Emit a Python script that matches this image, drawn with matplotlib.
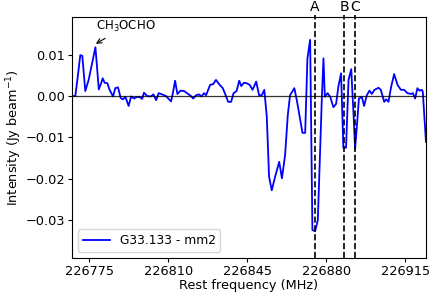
import numpy as np
import matplotlib
matplotlib.use('Agg')
import matplotlib.pyplot as plt

# spectrum (rest frequency in MHz, intensity in Jy/beam)
freq = [226767.3, 226768.8, 226769.7, 226771.0, 226771.9, 226773.2, 226774.7, 226776.2,
        226777.7, 226779.2, 226780.3, 226780.9, 226781.8, 226783.0, 226783.9, 226785.5,
        226786.5, 226787.7, 226788.9, 226789.9, 226791.0, 226792.4, 226793.5, 226794.8,
        226796.1, 226797.5, 226798.4, 226799.2, 226800.6, 226802.1, 226803.4, 226804.6,
        226805.7, 226807.2, 226809.0, 226810.3, 226811.2, 226812.0, 226813.0, 226814.0,
        226815.4, 226817.0, 226818.3, 226819.8, 226821.0, 226822.3, 226823.6, 226824.7,
        226825.8, 226826.7, 226828.5, 226829.9, 226831.1, 226832.6, 226834.1, 226835.1,
        226836.5, 226837.8, 226838.9, 226840.2, 226841.4, 226842.3, 226843.5, 226844.7,
        226846.0, 226847.3, 226848.9, 226850.2, 226851.4, 226852.5, 226853.6, 226854.6,
        226855.8, 226857.3, 226859.1, 226860.3, 226861.7, 226862.9, 226863.9, 226865.8,
        226866.9, 226869.4, 226870.6, 226871.6, 226872.8, 226873.8, 226875.0, 226876.2,
        226878.0, 226878.7, 226879.3, 226880.5, 226881.7, 226883.1, 226884.3, 226885.3,
        226886.5, 226887.5, 226888.7, 226889.8, 226891.0, 226892.0, 226892.7, 226893.5,
        226894.4, 226895.7, 226896.7, 226897.9, 226899.1, 226900.1, 226901.3, 226903.1,
        226904.1, 226905.6, 226906.5, 226907.5, 226908.7, 226910.0, 226911.5, 226913.0,
        226914.4, 226915.9, 226917.4, 226918.3, 226919.3, 226920.3, 226921.2, 226922.3,
        226922.7, 226924.1]
intensity = [0.0, 0.0, 0.0039, 0.0099, 0.0097, 0.0012, 0.0039, 0.0079,
             0.0118, 0.0016, 0.0032, 0.0043, 0.0032, 0.0031, 0.0016, -0.0001,
             0.0019, 0.0021, -0.0005, -0.0008, -0.0002, -0.0024, -0.0001, -0.0006,
             -0.0002, -0.0003, -0.0007, 0.0008, 0.0, -0.0001, 0.0004, -0.0010,
             0.0007, 0.0004, 0.0, -0.0008, -0.0013, 0.0007, 0.0037, 0.0005,
             0.0013, 0.0012, 0.0007, 0.0001, -0.0006, 0.0002, 0.0004, -0.0001,
             0.0007, 0.0002, 0.0027, 0.0029, 0.0039, 0.0028, 0.0019, 0.0006,
             -0.0014, -0.0014, 0.0007, 0.0012, 0.0037, 0.0024, 0.0032, 0.0031,
             0.0027, 0.0015, 0.0035, 0.0002, 0.0002, 0.0015, -0.0050, -0.0195,
             -0.0228, -0.0195, -0.0159, -0.0199, -0.0143, -0.0046, 0.0002, 0.0019,
             -0.0010, -0.0089, -0.0089, 0.0091, 0.0136, -0.0324, -0.0327, -0.0300,
             -0.0002, 0.0091, -0.0002, 0.0007, -0.0002, -0.0027, -0.0019, 0.0023,
             0.0055, -0.0125, -0.0125, 0.0039, 0.0065, -0.0042, -0.0127, -0.0074,
             -0.0006, -0.0002, -0.0024, 0.0002, 0.0013, 0.0005, 0.0015, 0.0020,
             0.0015, -0.0014, -0.0008, -0.0014, 0.0023, 0.0053, 0.0027, 0.0015,
             0.0015, 0.0007, 0.0005, 0.0007, -0.0006, 0.0019, 0.0013, 0.0015,
             0.0010, -0.0111]

line_freqs = [226875.0, 226887.9, 226892.7]
line_names = ['A', 'B', 'C']

plt.rcParams['font.size'] = 9.3

fig = plt.figure(figsize=(4.36, 2.94), dpi=100)
ax = fig.add_axes([0.165, 0.122, 0.812, 0.82])

ax.plot(freq, intensity, color='blue', lw=1.3, label='G33.133 - mm2')
ax.axhline(0, color='black', lw=0.9, alpha=0.8)

for f, name in zip(line_freqs, line_names):
    ax.axvline(f, ymin=0, ymax=1.01, color='black', ls='--', lw=1.2, clip_on=False)
    ax.text(f, 1.012, name, transform=ax.get_xaxis_transform(),
            ha='center', va='bottom', fontsize=10)

ax.annotate('CH$_3$OCHO', xy=(226776.8, 0.0123), xytext=(226791.0, 0.0168),
            ha='center', va='center', fontsize=8.5,
            arrowprops=dict(arrowstyle='->', color='black', lw=0.8))

ax.set_xlim(freq[0], freq[-1])
ax.set_ylim(-0.0392, 0.0191)
ax.set_xticks([226775, 226810, 226845, 226880, 226915])
ax.set_yticks([-0.03, -0.02, -0.01, 0.0, 0.01])
ax.ticklabel_format(axis='x', useOffset=False, style='plain')
ax.tick_params(length=3, pad=2)
ax.set_xlabel('Rest frequency (MHz)', labelpad=1)
ax.set_ylabel('Intensity (Jy beam$^{-1}$)', labelpad=1)
ax.legend(loc='lower left', fontsize=8.8, handlelength=2.2)

fig.savefig('out.png', dpi=100)
